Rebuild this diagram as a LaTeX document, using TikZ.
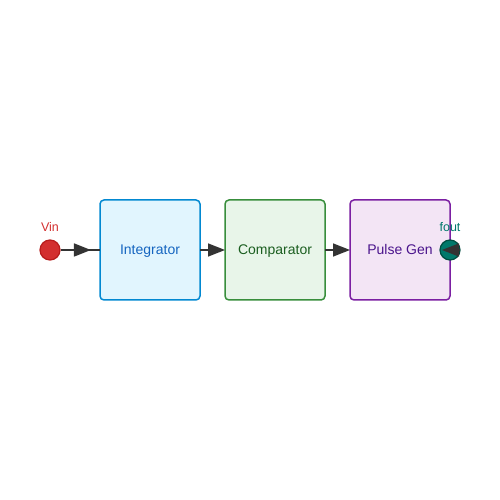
\documentclass[tikz,border=0pt]{standalone}
\usepackage{fontspec}
\setmainfont{Liberation Sans}
\usetikzlibrary{arrows.meta, decorations.markings}
\usetikzlibrary{positioning}
\definecolor{vinred}{HTML}{D32F2F}
\definecolor{vindark}{HTML}{B71C1C}
\definecolor{foutteal}{HTML}{00796B}
\definecolor{foutdark}{HTML}{004D40}
\definecolor{arrgray}{HTML}{333333}
\tikzstyle{fleche} = [-{Triangle[length=17pt,width=13pt]},draw=arrgray,line width=1.6pt]
\tikzstyle{flechemid} = [draw=arrgray,line width=1.6pt,decoration={markings,mark=at position 0.77 with {\arrow{Triangle[length=17pt,width=13pt]}}},postaction=decorate]
\tikzstyle{bloc} = [rectangle,rounded corners=4pt,line width=1.5pt,outer sep=0pt,minimum width=100pt,minimum height=100pt,text height=12pt,text depth=2pt,font=\fontsize{14pt}{16pt}\selectfont]
\tikzstyle{port} = [circle,line width=1.2pt,minimum size=20pt,inner sep=0pt]
\tikzstyle{etiq} = [font=\fontsize{12.5pt}{14pt}\selectfont,inner sep=1pt]

\begin{document}
\begin{tikzpicture}[x=1pt,y=1pt]

	\useasboundingbox (0,0) rectangle (500,500);

	\node[bloc,fill={rgb,255:red,225;green,245;blue,254},draw={rgb,255:red,2;green,136;blue,209},text={rgb,255:red,21;green,101;blue,192}] (Integ) at (150,250) {Integrator};
	\node[bloc,right=25pt of Integ,fill={rgb,255:red,232;green,245;blue,233},draw={rgb,255:red,56;green,142;blue,60},text={rgb,255:red,27;green,94;blue,32}] (Comp) {Comparator};
	\node[bloc,right=25pt of Comp,fill={rgb,255:red,243;green,229;blue,245},draw={rgb,255:red,123;green,31;blue,162},text={rgb,255:red,74;green,20;blue,140}] (Pulse) {Pulse Gen};

	%% Ports
	\node[port,fill=vinred,draw=vindark] (Vin) at (50,250) {};
	\node[etiq,text=vinred,above=7pt of Vin] (VinLab) {Vin};

	\node[port,fill=foutteal,draw=foutdark] (Fout) at (Pulse.east) {};
	\node[etiq,text=foutteal,above=7pt of Fout] (FoutLab) {fout};
	\coordinate[right=9pt of Fout.center] (FoutIn);
	\coordinate[left=8pt of Fout.center] (FoutTip);

	%% Fleches
	\draw[flechemid] (Vin.east) -- (Integ.west);
	\draw[fleche] (Integ.east) -- (Comp.west);
	\draw[fleche] (Comp.east) -- (Pulse.west);
	\draw[fleche] (FoutIn) -- (FoutTip);

\end{tikzpicture}
\end{document}
